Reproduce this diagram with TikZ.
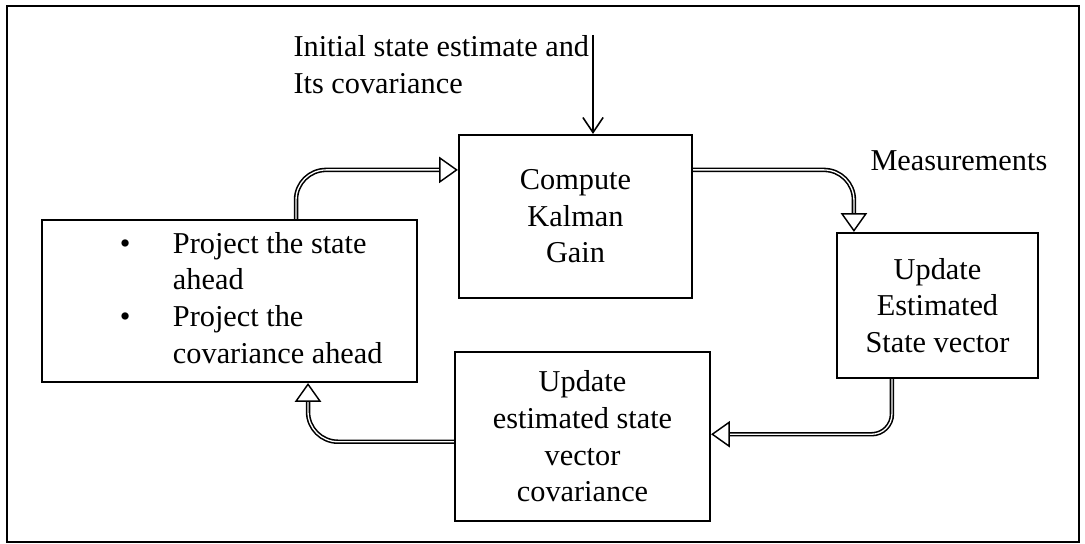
\documentclass[tikz,border=0pt]{standalone}
\usepackage{fontspec}
\setmainfont{Liberation Serif}
\usetikzlibrary{arrows.meta}

\begin{document}
\begin{tikzpicture}[
    font=\fontsize{11.5}{13.9}\selectfont,
    box/.style={draw, line width=0.8pt, align=center, inner sep=0pt},
    flow/.style={double, line width=0.6pt, double distance=0.5pt, rounded corners=0.4cm,
      -{Triangle[open, length=2.5mm, width=3.5mm, line width=0.55pt]}},
    feed/.style={line width=0.6pt, -{Straight Barb[length=2mm, width=2.7mm, line width=0.6pt]}}
  ]
    \useasboundingbox (0,0) rectangle (14.467,7.253);
    % --- Cornice esterna ---
    \draw[line width=0.9pt] (0.093,0.027) rectangle (14.387,7.173);

    % --- Blocchi del ciclo ---
    \node[box, minimum width=3.107cm, minimum height=2.173cm] (gain) at (7.673,4.367) {Compute\\Kalman\\Gain};
    \node[box, minimum width=2.68cm, minimum height=1.933cm] (update) at (12.5,3.18) {Update\\Estimated\\State vector};
    \node[box, minimum width=3.4cm, minimum height=2.253cm] (cov) at (7.767,1.433) {Update\\estimated state\\vector\\covariance};
    \node[box, minimum width=5cm, minimum height=2.16cm] (proj) at (3.06,3.24) {%
      \begin{tabular}{@{\hspace{1.04cm}}l@{\hspace{0.565cm}}l@{\hspace{0.46cm}}}
        \textbullet & Project the state\\
                    & ahead\\
        \textbullet & Project the\\
                    & covariance ahead
      \end{tabular}};

    % --- Testi esterni ---
    \node[anchor=north west, align=left, inner sep=0pt] (init) at (3.907,6.787) {Initial state estimate and\\Its covariance};
    \node[anchor=north west, inner sep=0pt] (meas) at (11.6,5.253) {Measurements};

    % --- Frecce ---
    \coordinate (src) at (7.907,6.787);
    \draw[feed] (src) -- (src |- gain.north);
    \draw[flow] ([xshift=0.887cm]proj.north) |- ([yshift=-0.48cm]gain.north west);
    \draw[flow] ([yshift=-0.48cm]gain.north east) -| ([xshift=0.24cm]update.north west);
    \draw[flow, rounded corners=0.27cm] ([xshift=0.747cm]update.south west) |- ([yshift=0.03cm]cov.east);
    \draw[flow] ([yshift=-0.07cm]cov.west) -| ([xshift=1.047cm]proj.south);
  \end{tikzpicture}
\end{document}
